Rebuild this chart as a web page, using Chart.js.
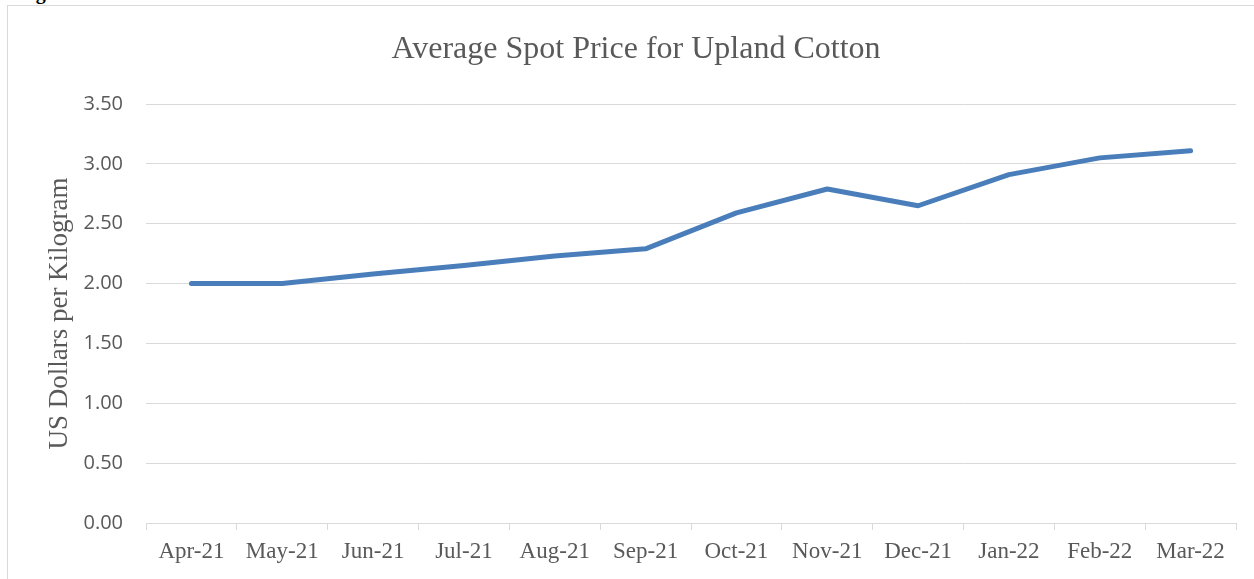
<!DOCTYPE html>
<html>
<head>
<meta charset="utf-8">
<script src="https://cdn.jsdelivr.net/npm/chart.js@4"></script>
<style>
  html, body { margin: 0; padding: 0; background: #fff; overflow: hidden; }
  #wrap { position: relative; width: 1254px; height: 579px; }
  #frame { position: absolute; left: 7px; top: 5px; width: 1300px; height: 650px; border: 1px solid #d9d9d9; box-sizing: border-box; }
  #caption { position: absolute; left: 18px; top: -18px; font: bold 20px "Liberation Serif", serif; line-height: 20px; color: #000; white-space: nowrap; }
  canvas { position: absolute; left: 0; top: 0; }
</style>
</head>
<body>
<div id="wrap">
  <div id="frame"></div>
  <div id="caption">Figure 1</div>
  <canvas id="priceChart" width="1254" height="579"></canvas>
</div>
<script>
const months = ['Apr-21', 'May-21', 'Jun-21', 'Jul-21', 'Aug-21', 'Sep-21',
                'Oct-21', 'Nov-21', 'Dec-21', 'Jan-22', 'Feb-22', 'Mar-22'];
const spotPrice = [2.00, 2.00, 2.08, 2.15, 2.23, 2.29, 2.59, 2.79, 2.65, 2.91, 3.05, 3.11];
const yTicks = [0, 0.5, 1, 1.5, 2, 2.5, 3, 3.5];
const chartTitle = 'Average Spot Price for Upland Cotton';

const grey = '#d9d9d9';
const textGrey = '#595959';

// title centred on the outer frame, not on the padded chart box
const frameTitle = {
    id: 'frameTitle',
    afterDraw(chart) {
        const c = chart.ctx;
        c.save();
        c.font = '32px "Liberation Serif", serif';
        c.fillStyle = textGrey;
        c.textAlign = 'center';
        c.textBaseline = 'middle';
        c.fillText(chartTitle, 636, 50);
        c.restore();
    }
};

const ctx = document.getElementById('priceChart');
new Chart(ctx, {
    type: 'line',
    data: {
        labels: months,
        datasets: [{
            label: 'Average Spot Price',
            data: spotPrice,
            borderColor: '#4a7ebb',
            borderWidth: 5,
            borderCapStyle: 'round',
            borderJoinStyle: 'round',
            pointRadius: 0,
            tension: 0,
            fill: false
        }]
    },
    options: {
        responsive: false,
        animation: false,
        layout: { padding: { left: 0, right: 18, top: 104, bottom: 0 } },
        plugins: {
            legend: { display: false },
            tooltip: { enabled: false },
            title: { display: false }
        },
        scales: {
            x: {
                offset: true,
                grid: { offset: true, drawOnChartArea: false, drawTicks: true, tickLength: 7, color: grey },
                border: { color: grey },
                ticks: {
                    color: textGrey,
                    padding: 8,
                    maxRotation: 0,
                    autoSkip: false,
                    font: { family: '"Liberation Serif", serif', size: 23 }
                },
                afterFit: function(scale) { scale.height = 56; }
            },
            y: {
                min: 0,
                max: 3.5,
                afterBuildTicks: function(scale) {
                    scale.ticks = yTicks.map(v => ({ value: v }));
                },
                grid: { color: grey, drawTicks: false },
                border: { display: false },
                ticks: {
                    color: textGrey,
                    padding: 23,
                    font: { family: '"Open Sans", sans-serif', size: 20 },
                    callback: function(value) { return Number(value).toFixed(2); }
                },
                title: {
                    display: true,
                    text: 'US Dollars per Kilogram',
                    color: textGrey,
                    font: { family: '"Liberation Serif", serif', size: 27 },
                    padding: { top: 44, bottom: 0 }
                },
                afterFit: function(scale) { scale.width = 146; }
            }
        }
    },
    plugins: [frameTitle]
});
</script>
</body>
</html>
